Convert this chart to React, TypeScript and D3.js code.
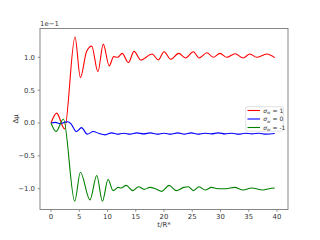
import React from "react";
import * as d3 from "d3";

const redT = [0, 1.0, 2.4, 4.25, 5.2, 6.3, 7.2, 8.3, 9.25, 10.3, 11.1, 11.8, 12.6, 13.7, 14.7, 15.9, 17.9, 19.0, 20.0, 21.2, 22.6, 23.8, 25.2, 26.2, 27.6, 28.7, 29.9, 31.1, 32.6, 34.0, 35.2, 36.4, 38.2, 39.6];
const redV = [0, 0.15, -0.09, 1.31, 0.69, 1.09, 1.17, 0.78, 1.2, 0.87, 1.01, 1.0, 1.06, 0.92, 1.09, 0.96, 1.05, 0.96, 1.085, 0.97, 1.06, 0.99, 1.085, 0.99, 1.07, 1.0, 1.06, 1.0, 1.055, 0.99, 1.05, 1.0, 1.05, 0.995];

const blueT = [0, 0.8, 1.6, 2.4, 3.0, 3.6, 4.5, 5.4, 6.4, 7.5, 8.5, 9.6, 10.7, 11.8, 12.8, 14.0, 15.2, 16.4, 17.6, 18.8, 20.0, 21.2, 22.4, 23.6, 24.8, 26.0, 27.2, 28.4, 29.6, 30.8, 32.0, 33.2, 34.4, 35.6, 36.8, 38.0, 39.6];
const blueV = [0, 0.01, -0.01, 0.01, 0.02, -0.02, -0.13, -0.07, -0.17, -0.13, -0.16, -0.18, -0.15, -0.17, -0.155, -0.17, -0.15, -0.165, -0.15, -0.17, -0.155, -0.17, -0.15, -0.17, -0.15, -0.17, -0.155, -0.165, -0.15, -0.165, -0.155, -0.17, -0.155, -0.165, -0.155, -0.17, -0.16];

const greenT = [0, 0.9, 2.2, 4.2, 5.2, 6.9, 8.1, 9.1, 10.1, 11.0, 11.9, 12.4, 13.3, 14.5, 15.5, 16.5, 17.5, 18.5, 19.6, 20.9, 22.2, 23.5, 24.3, 25.2, 26.2, 27.3, 28.4, 29.5, 31.0, 32.5, 34.0, 35.5, 37.5, 38.6, 39.6];
const greenV = [0, -0.13, 0.06, -1.19, -0.75, -1.17, -0.8, -1.19, -0.86, -1.03, -0.98, -0.99, -0.95, -1.03, -0.97, -1.01, -0.98, -1.0, -1.04, -0.95, -1.03, -0.98, -0.97, -1.03, -0.97, -1.02, -0.98, -1.0, -1.0, -0.98, -1.02, -0.99, -1.02, -1.0, -0.99];

const xTicks = [0, 5, 10, 15, 20, 25, 30, 35, 40];
const yTicks = [-1.0, -0.5, 0.0, 0.5, 1.0];
const seriesNames = ["1", "0", "-1"];
const seriesColors = ["#ff0000", "#0000ff", "#008000"];

const FONT = "DejaVu Sans, sans-serif";

export default function App() {
  const left = 40, right = 288, top = 28.5, bottom = 209.5;
  const x = d3.scaleLinear().domain([0, 40]).range([51, 277]);
  const y = d3.scaleLinear().domain([-1, 1]).range([188.7, 57.3]);
  const line = d3
    .line<[number, number]>()
    .x((d) => x(d[0]))
    .y((d) => y(d[1]))
    .curve(d3.curveMonotoneX);
  const series = [
    redT.map((t, i) => [t, redV[i]] as [number, number]),
    blueT.map((t, i) => [t, blueV[i]] as [number, number]),
    greenT.map((t, i) => [t, greenV[i]] as [number, number]),
  ];
  const fmt = (v: number) => (v < 0 ? "\u2212" : "") + Math.abs(v).toFixed(1);
  const axisColor = "#7a7a7a";
  const fs = 6.9;
  return (
    <svg
      width={320}
      height={240}
      style={{ position: "absolute", left: 0, top: 0, background: "#fff" }}
      fontFamily={FONT}
    >
      <rect x={0} y={0} width={320} height={240} fill="#fff" />
      <g>
        {series.map((s, i) => (
          <path key={i} d={line(s) || ""} fill="none" stroke={seriesColors[i]} strokeWidth={1.1} />
        ))}
      </g>
      <rect x={left} y={top} width={right - left} height={bottom - top} fill="none" stroke={axisColor} strokeWidth={0.9} />
      {xTicks.map((t) => (
        <g key={t}>
          <line x1={x(t)} x2={x(t)} y1={bottom} y2={bottom + 2.4} stroke={axisColor} strokeWidth={0.8} />
          <text x={x(t)} y={bottom + 9.5} fontSize={fs} textAnchor="middle" fill="#333">
            {t}
          </text>
        </g>
      ))}
      {yTicks.map((v) => (
        <g key={v}>
          <line x1={left - 2.4} x2={left} y1={y(v)} y2={y(v)} stroke={axisColor} strokeWidth={0.8} />
          <text x={left - 5} y={y(v) + 2.4} fontSize={fs} textAnchor="end" fill="#333">
            {fmt(v)}
          </text>
        </g>
      ))}
      <text x={left} y={26} fontSize={fs} fill="#333">1e{"\u2212"}1</text>
      <text x={(left + right) / 2} y={227} fontSize={fs} textAnchor="middle" fill="#333">
        t/R*
      </text>
      <text transform={`translate(18,${(top + bottom) / 2}) rotate(-90)`} fontSize={fs} textAnchor="middle" fill="#333">
        Δμ
      </text>
      <g>
        <rect x={245.7} y={106.7} width={37.6} height={24.5} rx={1.5} fill="#fff" fillOpacity={0.8} stroke="#ccc" strokeWidth={0.6} />
        {seriesNames.map((n, i) => {
          const yy = 110.5 + i * 8.5;
          return (
            <g key={n}>
              <line x1={247.5} x2={260} y1={yy} y2={yy} stroke={seriesColors[i]} strokeWidth={1.1} />
              <text x={263.3} y={yy + 2.2} fontSize={6} fill="#333">
                <tspan fontStyle="italic">σ</tspan>
                <tspan fontSize={4.2} dy={1.3} fontStyle="italic">w</tspan>
                <tspan dy={-1.3}>{" = " + n}</tspan>
              </text>
            </g>
          );
        })}
      </g>
    </svg>
  );
}
